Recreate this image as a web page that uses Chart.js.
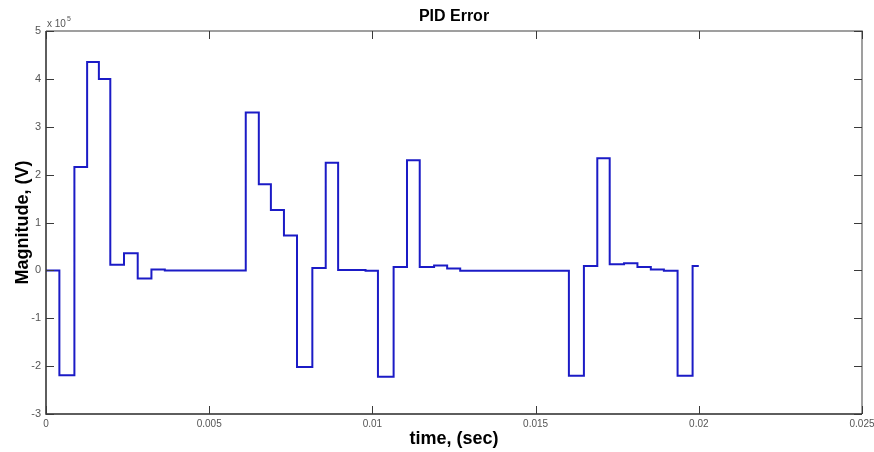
<!DOCTYPE html>
<html>
<head>
<meta charset="utf-8">
<script src="https://cdn.jsdelivr.net/npm/chart.js@4/dist/chart.umd.min.js"></script>
<style>
  html, body { margin: 0; padding: 0; background: #ffffff; }
  canvas { display: block; }
</style>
</head>
<body>
<canvas id="pid" width="874" height="452"></canvas>
<script>
// Sample instants where the PID error changes level (seconds)
const stepTimes = [
  0, 0.00041, 0.00087, 0.00126, 0.00162, 0.00197, 0.00239, 0.00281, 0.00323, 0.00364,
  0.00612, 0.00652, 0.00689, 0.00729, 0.00769, 0.00816, 0.00857, 0.00895, 0.00979, 0.01017,
  0.01065, 0.01106, 0.01145, 0.01189, 0.01229, 0.01269, 0.01602, 0.01648, 0.01689, 0.01727,
  0.01771, 0.01812, 0.01853, 0.01893, 0.01935, 0.01981, 0.02
];
// Error level held from each instant to the next (units of 10^5 V)
const errorE5 = [
  0, -2.19, 2.16, 4.35, 4.0, 0.12, 0.36, -0.17, 0.02, 0.0,
  3.30, 1.80, 1.26, 0.73, -2.02, 0.05, 2.25, 0.01, -0.01, -2.22,
  0.07, 2.30, 0.07, 0.10, 0.04, -0.01, -2.20, 0.09, 2.34, 0.13,
  0.15, 0.07, 0.02, -0.01, -2.20, 0.09, 0.09
];
const exponent = 5;

const xTickValues = [0, 0.005, 0.01, 0.015, 0.02, 0.025];
const xTickLabels = ['0', '0.005', '0.01', '0.015', '0.02', '0.025'];
const yTickValues = [-3, -2, -1, 0, 1, 2, 3, 4, 5];
const yTickLabels = ['-3', '-2', '-1', '0', '1', '2', '3', '4', '5'];

const titleText = 'PID Error';
const xTitle = 'time, (sec)';
const yTitle = 'Magnitude, (V)';

const FONT = '"Liberation Sans", Arial, Helvetica, sans-serif';

// Box, inward tick marks, titles and the exponent note
const axesDecor = {
  id: 'axesDecor',
  afterDraw(chart) {
    const { ctx, chartArea: a, scales } = chart;
    ctx.save();
    // frame
    ctx.lineWidth = 1.5;
    ctx.strokeStyle = '#808080';
    ctx.beginPath();
    ctx.moveTo(a.left, a.top); ctx.lineTo(a.right, a.top); ctx.lineTo(a.right, a.bottom);
    ctx.stroke();
    ctx.strokeStyle = '#2a2a2a';
    ctx.beginPath();
    ctx.moveTo(a.left, a.top); ctx.lineTo(a.left, a.bottom); ctx.lineTo(a.right, a.bottom);
    ctx.stroke();

    // inward ticks
    ctx.lineWidth = 1;
    ctx.strokeStyle = '#3a3a3a';
    const tl = 8;
    ctx.beginPath();
    xTickValues.forEach(v => {
      const px = Math.round(scales.x.getPixelForValue(v)) + 0.5;
      ctx.moveTo(px, a.bottom); ctx.lineTo(px, a.bottom - tl);
      ctx.moveTo(px, a.top); ctx.lineTo(px, a.top + tl);
    });
    yTickValues.forEach(v => {
      const py = Math.round(scales.y.getPixelForValue(v)) + 0.5;
      ctx.moveTo(a.left, py); ctx.lineTo(a.left + tl, py);
      ctx.moveTo(a.right, py); ctx.lineTo(a.right - tl, py);
    });
    ctx.stroke();

    // title
    const cx = (a.left + a.right) / 2;
    ctx.fillStyle = '#000000';
    ctx.textAlign = 'center';
    ctx.textBaseline = 'alphabetic';
    ctx.font = 'bold 16px ' + FONT;
    ctx.fillText(titleText, cx, 21);

    // axis titles
    ctx.font = 'bold 18px ' + FONT;
    ctx.fillText(xTitle, cx, 444);
    ctx.save();
    ctx.translate(28, (a.top + a.bottom) / 2);
    ctx.rotate(-Math.PI / 2);
    ctx.fillText(yTitle, 0, 0);
    ctx.restore();

    // exponent note
    ctx.fillStyle = '#555555';
    ctx.textAlign = 'left';
    ctx.font = '10px ' + FONT;
    ctx.fillText('x 10', a.left + 1, 27);
    const w = ctx.measureText('x 10').width;
    ctx.font = '7px ' + FONT;
    ctx.fillText(String(exponent), a.left + 2 + w, 21);
    ctx.restore();
  }
};

new Chart(document.getElementById('pid'), {
  type: 'line',
  data: {
    datasets: [{
      data: stepTimes.map((t, i) => ({ x: t, y: errorE5[i] })),
      stepped: 'before',
      borderColor: '#1b1bc6',
      borderWidth: 2,
      pointRadius: 0,
      fill: false
    }]
  },
  options: {
    responsive: false,
    animation: false,
    events: [],
    layout: { padding: { top: 31, right: 0, left: 0, bottom: 0 } },
    plugins: { legend: { display: false }, tooltip: { enabled: false }, title: { display: false } },
    scales: {
      x: {
        type: 'linear',
        min: 0,
        max: 0.025,
        afterFit(s) { s.height = 38; s.paddingLeft = 0; s.paddingRight = 12; },
        afterBuildTicks(s) { s.ticks = xTickValues.map(v => ({ value: v })); },
        grid: { display: false, drawTicks: false },
        border: { display: false },
        ticks: {
          autoSkip: false,
          maxRotation: 0,
          padding: 4,
          color: '#555555',
          font: { size: 10, family: FONT },
          callback: (v, i) => xTickLabels[i]
        }
      },
      y: {
        type: 'linear',
        min: -3,
        max: 5,
        afterFit(s) { s.width = 46; s.paddingTop = 0; s.paddingBottom = 0; },
        afterBuildTicks(s) { s.ticks = yTickValues.map(v => ({ value: v })); },
        grid: { display: false, drawTicks: false },
        border: { display: false },
        ticks: {
          autoSkip: false,
          padding: 5,
          color: '#555555',
          font: { size: 11, family: FONT },
          callback: (v, i) => yTickLabels[i]
        }
      }
    }
  },
  plugins: [axesDecor]
});
</script>
</body>
</html>
